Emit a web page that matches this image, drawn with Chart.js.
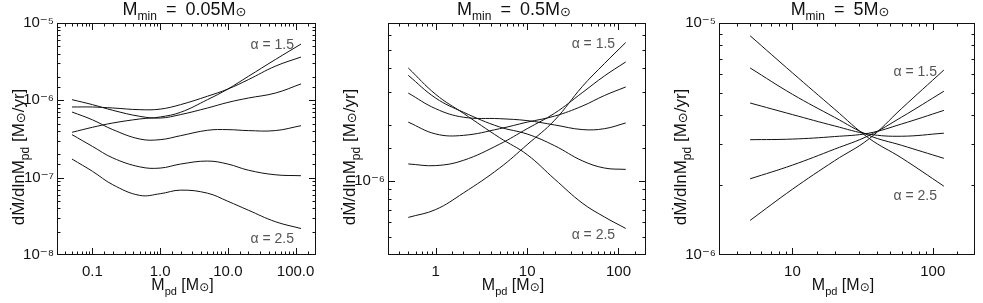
<!DOCTYPE html>
<html>
<head>
<meta charset="utf-8">
<script src="https://cdn.jsdelivr.net/npm/chart.js@4.4.1/dist/chart.umd.min.js"></script>
<style>
  body { margin: 0; background: #fff; }
  #wrap { position: relative; width: 983px; height: 303px; }
  canvas { position: absolute; top: 0; }
</style>
</head>
<body>
<div id="wrap">
  <canvas id="c1" width="330" height="303" style="left:0px;width:330px;height:303px"></canvas>
  <canvas id="c2" width="326" height="303" style="left:330px;width:326px;height:303px"></canvas>
  <canvas id="c3" width="327" height="303" style="left:656px;width:327px;height:303px"></canvas>
</div>
<script>
var FONT = "'Liberation Sans', Arial, 'DejaVu Sans', sans-serif";

// M_min = 0.05 Msun
var mass1 = [0.05, 0.1, 0.2, 0.5, 1, 2, 5, 10, 20, 50, 120];
var rate1_15 = [3.86e-7, 4.48e-7, 5.09e-7, 5.74e-7, 6.09e-7, 7.0e-7, 1.02e-6, 1.40e-6, 2.04e-6, 3.36e-6, 5.34e-6];
var rate1_17 = [8.2e-7, 8.2e-7, 7.96e-7, 7.57e-7, 7.7e-7, 8.8e-7, 1.13e-6, 1.40e-6, 1.85e-6, 2.76e-6, 3.63e-6];
var rate1_19 = [1.02e-6, 8.8e-7, 7.43e-7, 6.21e-7, 5.9e-7, 6.54e-7, 7.96e-7, 9.4e-7, 1.07e-6, 1.24e-6, 1.63e-6];
var rate1_21 = [7.06e-7, 5.6e-7, 4.18e-7, 3.16e-7, 3.1e-7, 3.49e-7, 4.1e-7, 4.18e-7, 4.06e-7, 4.06e-7, 4.7e-7];
var rate1_23 = [3.6e-7, 2.54e-7, 1.8e-7, 1.38e-7, 1.33e-7, 1.5e-7, 1.64e-7, 1.5e-7, 1.25e-7, 1.09e-7, 1.06e-7];
var rate1_25 = [1.74e-7, 1.21e-7, 8.1e-8, 5.9e-8, 6.2e-8, 6.9e-8, 6.3e-8, 4.95e-8, 3.8e-8, 2.7e-8, 2.2e-8];

// M_min = 0.5 Msun
var mass2 = [0.5, 1, 2, 5, 10, 20, 40, 70, 120];
var rate2_15 = [6.36e-7, 7.01e-7, 8.59e-7, 1.17e-6, 1.56e-6, 2.11e-6, 3.19e-6, 4.24e-6, 5.5e-6];
var rate2_17 = [1.23e-6, 1.205e-6, 1.285e-6, 1.57e-6, 1.9e-6, 2.3e-6, 2.96e-6, 3.64e-6, 4.33e-6];
var rate2_19 = [2.06e-6, 1.78e-6, 1.75e-6, 1.9e-6, 2.06e-6, 2.22e-6, 2.51e-6, 2.86e-6, 3.18e-6];
var rate2_21 = [2.95e-6, 2.43e-6, 2.19e-6, 2.15e-6, 2.1e-6, 1.99e-6, 1.88e-6, 1.9e-6, 2.04e-6];
var rate2_23 = [3.67e-6, 2.77e-6, 2.33e-6, 1.94e-6, 1.78e-6, 1.54e-6, 1.28e-6, 1.17e-6, 1.15e-6];
var rate2_25 = [4.02e-6, 2.90e-6, 2.30e-6, 1.70e-6, 1.38e-6, 1.02e-6, 7.6e-7, 6.4e-7, 5.55e-7];

// M_min = 5 Msun
var mass3 = [5, 10, 20, 35, 60, 120];
var rate3_15 = [1.41e-6, 1.92e-6, 2.55e-6, 3.16e-6, 4.28e-6, 6.27e-6];
var rate3_17 = [2.13e-6, 2.44e-6, 2.86e-6, 3.27e-6, 3.93e-6, 5.08e-6];
var rate3_19 = [3.14e-6, 3.16e-6, 3.24e-6, 3.35e-6, 3.67e-6, 4.2e-6];
var rate3_21 = [4.52e-6, 4.03e-6, 3.6e-6, 3.32e-6, 3.25e-6, 3.35e-6];
var rate3_23 = [6.4e-6, 4.93e-6, 3.92e-6, 3.28e-6, 2.97e-6, 2.61e-6];
var rate3_25 = [8.81e-6, 6.1e-6, 4.25e-6, 3.19e-6, 2.62e-6, 1.98e-6];

var alphas = ['1.5', '1.7', '1.9', '2.1', '2.3', '2.5'];

var SUP = {'-': '\u207B', '0': '\u2070', '1': '\u00B9', '2': '\u00B2', '3': '\u00B3', '4': '\u2074',
           '5': '\u2075', '6': '\u2076', '7': '\u2077', '8': '\u2078', '9': '\u2079'};

function isPow10(v) {
  var l = Math.log10(v);
  return Math.abs(l - Math.round(l)) < 1e-6;
}

function yLabel(v) {
  if (!isPow10(v)) return '';
  var s = String(Math.round(Math.log10(v)));
  return '10' + s.split('').map(function (c) { return SUP[c]; }).join('');
}

function richWidth(ctx, parts) {
  var w = 0;
  parts.forEach(function (p) {
    ctx.font = p.size + 'px ' + FONT;
    w += ctx.measureText(p.t).width;
  });
  return w;
}

function drawRich(ctx, parts, x, y) {
  ctx.textAlign = 'left';
  ctx.textBaseline = 'alphabetic';
  parts.forEach(function (p) {
    ctx.font = p.size + 'px ' + FONT;
    ctx.fillText(p.t, x, y + (p.dy || 0));
    x += ctx.measureText(p.t).width;
  });
}

// frame with inward ticks on four sides, titles and alpha labels
var idlFrame = {
  id: 'idlFrame',
  afterDatasetsDraw: function (chart, args, opts) {
    var ctx = chart.ctx, a = chart.chartArea;
    var sx = chart.scales.x, sy = chart.scales.y;
    ctx.save();
    ctx.strokeStyle = '#111';
    ctx.lineWidth = 1;
    ctx.strokeRect(a.left + 0.5, a.top + 0.5, a.right - a.left - 1, a.bottom - a.top - 1);

    ctx.beginPath();
    sx.ticks.forEach(function (t) {
      if (t.value <= sx.min * 1.0001 || t.value >= sx.max * 0.9999) return;
      var p = Math.round(sx.getPixelForValue(t.value)) + 0.5;
      var len = isPow10(t.value) ? 7 : 3.5;
      ctx.moveTo(p, a.bottom); ctx.lineTo(p, a.bottom - len);
      ctx.moveTo(p, a.top); ctx.lineTo(p, a.top + len);
    });
    sy.ticks.forEach(function (t) {
      if (t.value <= sy.min * 1.0001 || t.value >= sy.max * 0.9999) return;
      var p = Math.round(sy.getPixelForValue(t.value)) + 0.5;
      var len = isPow10(t.value) ? 7 : 3.5;
      ctx.moveTo(a.left, p); ctx.lineTo(a.left + len, p);
      ctx.moveTo(a.right, p); ctx.lineTo(a.right - len, p);
    });
    ctx.stroke();

    ctx.fillStyle = '#111';
    var cx = (a.left + a.right) / 2;

    // panel title
    var title = [
      {t: 'M', size: 18},
      {t: 'min', size: 12, dy: 5},
      {t: '\u2002=\u2002' + opts.mmin + 'M', size: 18},
      {t: '\u2299', size: 13, dy: 1}
    ];
    drawRich(ctx, title, cx + opts.shift - richWidth(ctx, title) / 2, 15);

    // x axis title
    var xt = [
      {t: 'M', size: 16},
      {t: 'pd', size: 11, dy: 5},
      {t: ' [M', size: 16},
      {t: '\u2299', size: 12, dy: 1},
      {t: ']', size: 16}
    ];
    drawRich(ctx, xt, cx - 4 - richWidth(ctx, xt) / 2, 290);

    // y axis title
    var yt = [
      {t: 'd\u1E40/dlnM', size: 17},
      {t: 'pd', size: 12, dy: 5},
      {t: ' [M', size: 17},
      {t: '\u2299', size: 13, dy: 1},
      {t: '/yr]', size: 17}
    ];
    ctx.save();
    ctx.translate(a.left - 40, 157);
    ctx.rotate(-Math.PI / 2);
    drawRich(ctx, yt, -richWidth(ctx, yt) / 2, 7);
    ctx.restore();

    // alpha labels
    ctx.fillStyle = '#555';
    ctx.font = '14px ' + FONT;
    ctx.textAlign = 'left';
    ctx.textBaseline = 'middle';
    opts.notes.forEach(function (n) {
      ctx.fillText(n.text, sx.getPixelForValue(n.x), sy.getPixelForValue(n.y));
    });
    ctx.restore();
  }
};

function makePanel(id, masses, rates, cfg) {
  var datasets = rates.map(function (r, i) {
    return {
      label: '\u03B1 = ' + alphas[i],
      data: masses.map(function (m, k) { return {x: m, y: r[k]}; }),
      borderColor: '#111',
      borderWidth: 1,
      pointRadius: 0,
      fill: false,
      tension: 0.4
    };
  });

  return new Chart(document.getElementById(id), {
    type: 'line',
    data: {datasets: datasets},
    options: {
      responsive: false,
      animation: false,
      layout: {padding: {top: 23, right: cfg.padRight, left: 0, bottom: 0}},
      plugins: {
        legend: {display: false},
        tooltip: {enabled: false},
        idlFrame: {mmin: cfg.mmin, shift: cfg.shift, notes: cfg.notes}
      },
      scales: {
        x: {
          type: 'logarithmic',
          min: cfg.xmin, max: cfg.xmax,
          grid: {display: false, drawTicks: false},
          border: {display: false},
          ticks: {
            autoSkip: false, maxRotation: 0, padding: 8, color: '#111',
            font: {family: FONT, size: 15},
            callback: function (v) {
              if (!isPow10(v)) return '';
              return cfg.decimals ? v.toFixed(1) : String(Math.round(v));
            }
          },
          afterFit: function (s) { s.height = 48; }
        },
        y: {
          type: 'logarithmic',
          min: cfg.ymin, max: cfg.ymax,
          grid: {display: false, drawTicks: false},
          border: {display: false},
          ticks: {
            autoSkip: false, padding: 3, color: '#111',
            font: {family: FONT, size: 15},
            callback: yLabel
          },
          afterFit: function (s) { s.width = cfg.yWidth; }
        }
      }
    },
    plugins: [idlFrame]
  });
}

makePanel('c1', mass1, [rate1_15, rate1_17, rate1_19, rate1_21, rate1_23, rate1_25], {
  mmin: '0.05', shift: -2, decimals: true,
  xmin: 0.03, xmax: 200, ymin: 1e-8, ymax: 1e-5,
  yWidth: 57, padRight: 14,
  notes: [{text: '\u03B1 = 1.5', x: 21.6, y: 5.24e-6}, {text: '\u03B1 = 2.5', x: 21.6, y: 1.62e-8}]
});

makePanel('c2', mass2, [rate2_15, rate2_17, rate2_19, rate2_21, rate2_23, rate2_25], {
  mmin: '0.5', shift: -3, decimals: false,
  xmin: 0.3, xmax: 200, ymin: 4e-7, ymax: 7e-6,
  yWidth: 58, padRight: 10,
  notes: [{text: '\u03B1 = 1.5', x: 30.7, y: 5.37e-6}, {text: '\u03B1 = 2.5', x: 30.7, y: 5.1e-7}]
});

makePanel('c3', mass3, [rate3_15, rate3_17, rate3_19, rate3_21, rate3_23, rate3_25], {
  mmin: '5', shift: -7, decimals: false,
  xmin: 3, xmax: 200, ymin: 1e-6, ymax: 1e-5,
  yWidth: 63, padRight: 3,
  notes: [{text: '\u03B1 = 1.5', x: 52.5, y: 6.17e-6}, {text: '\u03B1 = 2.5', x: 52.5, y: 1.79e-6}]
});
</script>
</body>
</html>
